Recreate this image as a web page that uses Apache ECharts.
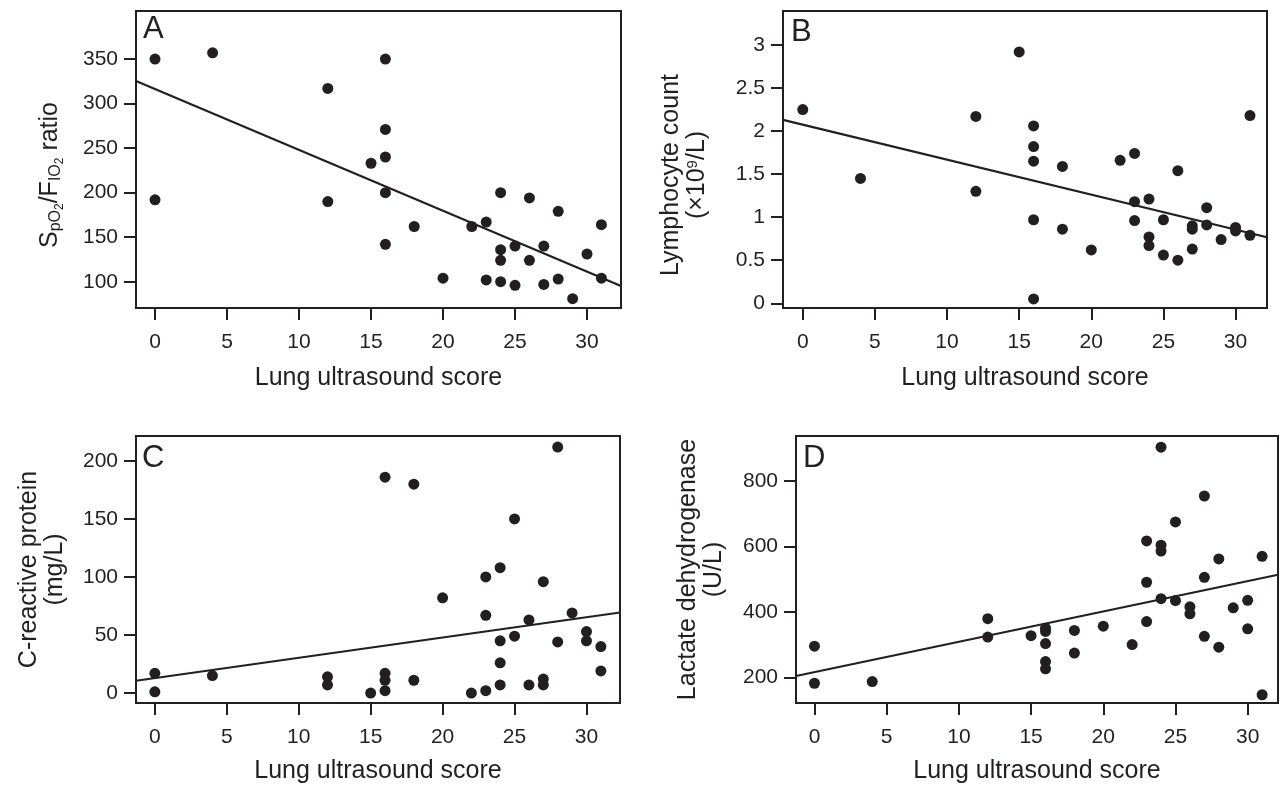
<!DOCTYPE html>
<html>
<head>
<meta charset="utf-8">
<title>Lung ultrasound score correlations</title>
<script src="https://cdn.jsdelivr.net/npm/echarts@6/dist/echarts.min.js"></script>
<style>
  html, body { margin: 0; padding: 0; background: #fff; }
  #main { width: 1282px; height: 785px; }
</style>
</head>
<body>
<div id="main"></div>
<script>
// ---- data: [lung ultrasound score, value] ----
const xTicks = [0, 5, 10, 15, 20, 25, 30];

// A: SpO2/FIO2 ratio
const yTicksA = [100, 150, 200, 250, 300, 350];
const pointsA = [
  [0, 350], [0, 192], [4, 357], [12, 317], [12, 190], [15, 233],
  [16, 350], [16, 271], [16, 240], [16, 200], [16, 142], [18, 162],
  [20, 104], [22, 162], [23, 167], [23, 102], [24, 200], [24, 136],
  [24, 124], [24, 100], [25, 140], [25, 96], [26, 194], [26, 124],
  [27, 140], [27, 97], [28, 179], [28, 103], [29, 81], [30, 131],
  [31, 164], [31, 104]
];
const fitA = [[-1.32, 325.3], [32.36, 95.2]];

// B: lymphocyte count (x10^9/L)
const yTicksB = [0, 0.5, 1, 1.5, 2, 2.5, 3];
const pointsB = [
  [0, 2.25], [4, 1.45], [12, 2.17], [12, 1.30], [15, 2.92],
  [16, 2.06], [16, 1.82], [16, 1.65], [16, 0.97], [16, 0.05],
  [18, 1.59], [18, 0.86], [20, 0.62], [22, 1.66], [23, 1.74],
  [23, 1.18], [23, 0.96], [24, 1.21], [24, 0.77], [24, 0.67],
  [25, 0.97], [25, 0.56], [26, 1.54], [26, 0.50], [27, 0.90],
  [27, 0.86], [27, 0.63], [28, 1.11], [28, 0.91], [29, 0.74],
  [30, 0.88], [30, 0.84], [31, 2.18], [31, 0.79]
];
const fitB = [[-1.37, 2.13], [32.18, 0.767]];

// C: C-reactive protein (mg/L)
const yTicksC = [0, 50, 100, 150, 200];
const pointsC = [
  [0, 17], [0, 1], [4, 15], [12, 14], [12, 7], [15, 0],
  [16, 186], [16, 17], [16, 11], [16, 2], [18, 180], [18, 11],
  [20, 82], [22, 0], [23, 100], [23, 67], [23, 2], [24, 108],
  [24, 45], [24, 26], [24, 7], [25, 150], [25, 49], [26, 63],
  [26, 7], [27, 96], [27, 12], [27, 7], [28, 212], [28, 44],
  [29, 69], [30, 53], [30, 45], [31, 40], [31, 19]
];
const fitC = [[-1.31, 10.6], [32.33, 69.4]];

// D: lactate dehydrogenase (U/L)
const yTicksD = [200, 400, 600, 800];
const pointsD = [
  [0, 296], [0, 183], [4, 188], [12, 380], [12, 324], [15, 328],
  [16, 351], [16, 341], [16, 304], [16, 249], [16, 227], [18, 344],
  [18, 275], [20, 357], [22, 301], [23, 617], [23, 491], [23, 371],
  [24, 903], [24, 604], [24, 586], [24, 441], [25, 675], [25, 435],
  [26, 416], [26, 395], [27, 754], [27, 506], [27, 326], [28, 562],
  [28, 293], [29, 413], [30, 436], [30, 349], [31, 570], [31, 148]
];
const fitD = [[-1.28, 205], [32.1, 514]];

const ink = '#231f20';
const font = '"Liberation Sans", Arial, Helvetica, sans-serif';

let myChart = echarts.init(document.getElementById('main'), null, { renderer: 'canvas' });

// panel boxes in pixels
const grids = [
  { left: 136, top: 11, width: 485, height: 297 },
  { left: 783, top: 11, width: 484, height: 297 },
  { left: 136, top: 436, width: 484, height: 267 },
  { left: 796, top: 436, width: 482, height: 267 }
];

function xAxisOf(i, min, max, gap) {
  return {
    gridIndex: i, type: 'value', min: min, max: max,
    name: 'Lung ultrasound score', nameLocation: 'middle', nameGap: gap,
    nameTextStyle: { fontSize: 25, color: ink, fontFamily: font },
    axisLine: { show: true, onZero: false, lineStyle: { color: ink, width: 2 } },
    axisTick: { show: true, length: 12, customValues: xTicks, lineStyle: { color: ink, width: 2 } },
    axisLabel: { fontSize: 21, color: ink, fontFamily: font, margin: 24, customValues: xTicks },
    splitLine: { show: false }
  };
}

function yAxisOf(i, min, max, ticks, name, gap, pad, rich) {
  return {
    gridIndex: i, type: 'value', min: min, max: max,
    name: name, nameLocation: 'middle', nameGap: gap,
    nameTextStyle: {
      fontSize: 25, lineHeight: 26, color: ink, fontFamily: font,
      padding: [0, pad, 0, 0], rich: rich || {}
    },
    axisLine: { show: true, onZero: false, lineStyle: { color: ink, width: 2 } },
    axisTick: { show: true, length: 12, customValues: ticks, lineStyle: { color: ink, width: 2 } },
    axisLabel: { fontSize: 21, color: ink, fontFamily: font, margin: 18, customValues: ticks },
    splitLine: { show: false }
  };
}

// rich pieces for subscripts / superscript
const richA = {
  m: { fontSize: 25, lineHeight: 32, fontFamily: font, color: ink },
  s: { fontSize: 16, lineHeight: 16, fontFamily: font, color: ink, verticalAlign: 'bottom', padding: [0, 0, 2, 0] },
  ss: { fontSize: 12, lineHeight: 12, fontFamily: font, color: ink, verticalAlign: 'bottom' }
};
const richB = {
  sup: { fontSize: 15, lineHeight: 15, fontFamily: font, color: ink, verticalAlign: 'top', padding: [1, 0, 0, 0] }
};

function scatterOf(i, pts) {
  return {
    type: 'scatter', xAxisIndex: i, yAxisIndex: i, data: pts,
    symbol: 'circle', symbolSize: 11,
    itemStyle: { color: ink, opacity: 1 },
    silent: true, z: 3
  };
}
function fitOf(i, pts) {
  return {
    type: 'line', xAxisIndex: i, yAxisIndex: i, data: pts,
    showSymbol: false, symbol: 'none',
    lineStyle: { color: ink, width: 2.2 },
    silent: true, z: 2
  };
}

function letter(t, x, y) {
  return {
    type: 'text', x: x, y: y, silent: true,
    style: { text: t, fontSize: 31, fontFamily: font, fill: ink, verticalAlign: 'middle', align: 'left' }
  };
}

let option = {
  backgroundColor: '#fff',
  animation: false,
  grid: grids.map(g => Object.assign({ show: true, borderColor: ink, borderWidth: 2, containLabel: false }, g)),
  xAxis: [
    xAxisOf(0, -1.32, 32.36, 58),
    xAxisOf(1, -1.37, 32.18, 58),
    xAxisOf(2, -1.31, 32.33, 56),
    xAxisOf(3, -1.28, 32.1, 56)
  ],
  yAxis: [
    yAxisOf(0, 70.5, 403.9, yTicksA, '{m|S}{s|pO}{ss|2}{m|/F}{s|IO}{ss|2}{m| ratio}', 70, 31, richA),
    yAxisOf(1, -0.055, 3.395, yTicksB, 'Lymphocyte count\n(\u00d710{sup|9}/L)', 73, 31, richB),
    yAxisOf(2, -8.6, 221.5, yTicksC, 'C-reactive protein\n(mg/L)', 68, 0),
    yAxisOf(3, 122.8, 937, yTicksD, 'Lactate dehydrogenase\n(U/L)', 69, 0)
  ],
  series: [
    fitOf(0, fitA), scatterOf(0, pointsA),
    fitOf(1, fitB), scatterOf(1, pointsB),
    fitOf(2, fitC), scatterOf(2, pointsC),
    fitOf(3, fitD), scatterOf(3, pointsD)
  ],
  graphic: [
    letter('A', 143, 29.5),
    letter('B', 791, 32),
    letter('C', 142, 458),
    letter('D', 803, 458.5)
  ]
};

myChart.setOption(option);
</script>
</body>
</html>
